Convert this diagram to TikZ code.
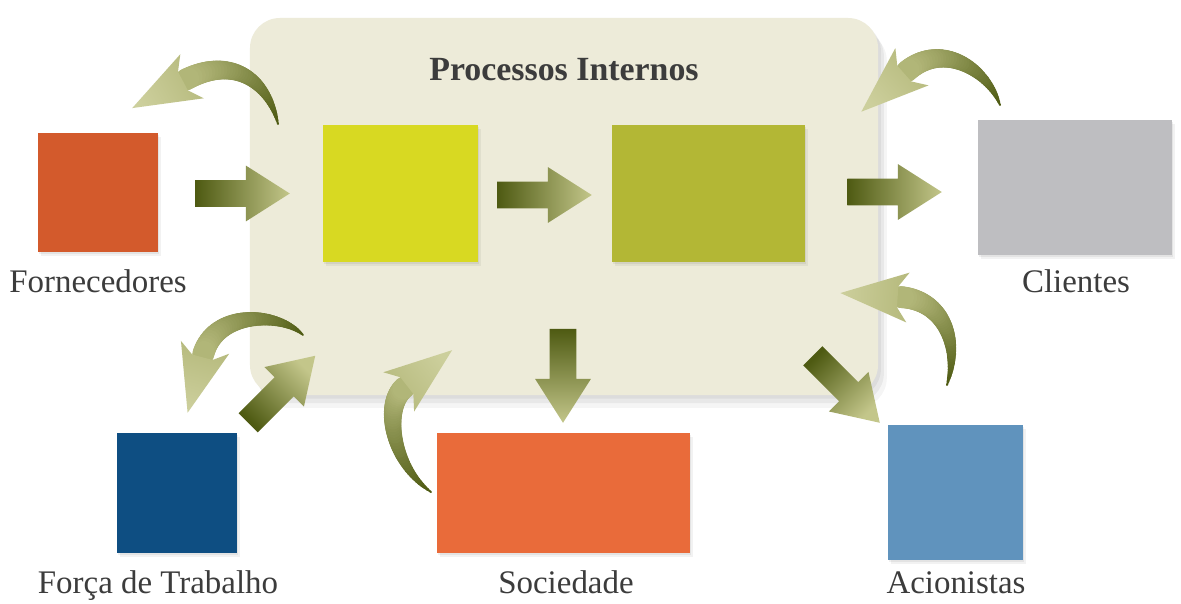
\documentclass[tikz,border=0pt]{standalone}
\usepackage{fontspec}
\setmainfont{Liberation Serif}
\usetikzlibrary{calc,shadows}

\definecolor{panelfill}{HTML}{EDEBD9}
\definecolor{cyellow}{HTML}{D8D922}
\definecolor{colive}{HTML}{B3B735}
\definecolor{corange}{HTML}{D35A2C}
\definecolor{cgray}{HTML}{BEBEC1}
\definecolor{cnavy}{HTML}{0E4E82}
\definecolor{csalmon}{HTML}{E96B3A}
\definecolor{csky}{HTML}{6093BD}
\definecolor{ardark}{HTML}{4E5A12}
\definecolor{arlight}{HTML}{C3C68A}
\definecolor{txt}{HTML}{3C3C3C}

% straight block arrow from tail #1 to tip #2, dark at the tail, light at the tip
\newcommand\blockarrow[2]{%
  \path (#1); \pgfgetlastxy{\bxa}{\bya}%
  \path (#2); \pgfgetlastxy{\bxb}{\byb}%
  \pgfmathsetmacro\bxa{\bxa}\pgfmathsetmacro\bya{\bya}%
  \pgfmathsetmacro\bxb{\bxb}\pgfmathsetmacro\byb{\byb}%
  \pgfmathsetmacro\bdx{\bxb-\bxa}\pgfmathsetmacro\bdy{\byb-\bya}%
  \pgfmathsetmacro\blen{veclen(\bdx,\bdy)}%
  \pgfmathsetmacro\bux{\bdx/\blen}\pgfmathsetmacro\buy{\bdy/\blen}%
  \pgfmathsetmacro\bang{atan2(\bdy,\bdx)+90}%
  \pgfmathsetmacro\bnx{\bxb-37.4*\bux}\pgfmathsetmacro\bny{\byb-37.4*\buy}%
  \pgfmathsetmacro\sx{11.5*\buy}\pgfmathsetmacro\sy{11.5*\bux}%
  \pgfmathsetmacro\hx{23.8*\buy}\pgfmathsetmacro\hy{23.8*\bux}%
  \pgfmathsetmacro\pAx{\bxa-\sx}\pgfmathsetmacro\pAy{\bya+\sy}%
  \pgfmathsetmacro\pBx{\bnx-\sx}\pgfmathsetmacro\pBy{\bny+\sy}%
  \pgfmathsetmacro\pCx{\bnx-\hx}\pgfmathsetmacro\pCy{\bny+\hy}%
  \pgfmathsetmacro\pDx{\bnx+\hx}\pgfmathsetmacro\pDy{\bny-\hy}%
  \pgfmathsetmacro\pEx{\bnx+\sx}\pgfmathsetmacro\pEy{\bny-\sy}%
  \pgfmathsetmacro\pFx{\bxa+\sx}\pgfmathsetmacro\pFy{\bya-\sy}%
  \shade[top color=ardark, bottom color=arlight, shading angle=\bang]
    (\pAx pt,\pAy pt) -- (\pBx pt,\pBy pt) -- (\pCx pt,\pCy pt) --
    (\bxb pt,\byb pt) -- (\pDx pt,\pDy pt) -- (\pEx pt,\pEy pt) --
    (\pFx pt,\pFy pt) -- cycle;
}

% tapered curved arrow along the cubic curve #1 .. #2 .. #3 .. #4
\newcommand\swoosh[4]{%
  \path (#1); \pgfgetlastxy{\qxa}{\qya}%
  \path (#2); \pgfgetlastxy{\qxb}{\qyb}%
  \path (#3); \pgfgetlastxy{\qxc}{\qyc}%
  \path (#4); \pgfgetlastxy{\qxd}{\qyd}%
  \pgfmathsetmacro\qxa{\qxa}\pgfmathsetmacro\qya{\qya}%
  \pgfmathsetmacro\qxb{\qxb}\pgfmathsetmacro\qyb{\qyb}%
  \pgfmathsetmacro\qxc{\qxc}\pgfmathsetmacro\qyc{\qyc}%
  \pgfmathsetmacro\qxd{\qxd}\pgfmathsetmacro\qyd{\qyd}%
  \foreach \i in {0,...,39}{%
    \pgfmathsetmacro\ta{\i/40}%
    \pgfmathsetmacro\tb{min(1,(\i+1.6)/40)}%
    \pgfmathsetmacro\xa{(1-\ta)^3*\qxa+3*(1-\ta)^2*\ta*\qxb+3*(1-\ta)*\ta^2*\qxc+\ta^3*\qxd}%
    \pgfmathsetmacro\ya{(1-\ta)^3*\qya+3*(1-\ta)^2*\ta*\qyb+3*(1-\ta)*\ta^2*\qyc+\ta^3*\qyd}%
    \pgfmathsetmacro\xb{(1-\tb)^3*\qxa+3*(1-\tb)^2*\tb*\qxb+3*(1-\tb)*\tb^2*\qxc+\tb^3*\qxd}%
    \pgfmathsetmacro\yb{(1-\tb)^3*\qya+3*(1-\tb)^2*\tb*\qyb+3*(1-\tb)*\tb^2*\qyc+\tb^3*\qyd}%
    \pgfmathsetmacro\wd{1.7+17*\ta*(1.6-0.6*\ta)}%
    \pgfmathtruncatemacro\scol{88*\ta}%
    \draw[line width=\wd pt, line cap=round, color=arlight!\scol!ardark]
      (\xa pt,\ya pt) -- (\xb pt,\yb pt);
  }%
  \pgfmathsetmacro\hdx{\qxd-\qxc}\pgfmathsetmacro\hdy{\qyd-\qyc}%
  \pgfmathsetmacro\hlen{veclen(\hdx,\hdy)}%
  \pgfmathsetmacro\hux{\hdx/\hlen}\pgfmathsetmacro\huy{\hdy/\hlen}%
  \pgfmathsetmacro\hang{atan2(\huy,\hux)+90}%
  \pgfmathsetmacro\tipx{\qxd+51*\hux}\pgfmathsetmacro\tipy{\qyd+51*\huy}%
  \pgfmathsetmacro\cAx{\qxd-21.3*\huy-6.8*\hux}\pgfmathsetmacro\cAy{\qyd+21.3*\hux-6.8*\huy}%
  \pgfmathsetmacro\cBx{\qxd+21.3*\huy-6.8*\hux}\pgfmathsetmacro\cBy{\qyd-21.3*\hux-6.8*\huy}%
  \pgfmathsetmacro\nAx{\qxd-9*\huy+2*\hux}\pgfmathsetmacro\nAy{\qyd+9*\hux+2*\huy}%
  \pgfmathsetmacro\nBx{\qxd+9*\huy+2*\hux}\pgfmathsetmacro\nBy{\qyd-9*\hux+2*\huy}%
  \shade[top color=arlight!88!ardark, bottom color=arlight!85!white, shading angle=\hang]
    (\tipx pt,\tipy pt) -- (\cAx pt,\cAy pt) -- (\nAx pt,\nAy pt) --
    (\nBx pt,\nBy pt) -- (\cBx pt,\cBy pt) -- cycle;
}

\begin{document}
\begin{tikzpicture}[x=0.03cm, y=-0.03cm,
  softshadow/.style={
    general shadow={fill=black, opacity=0.06, shadow xshift=1.2pt, shadow yshift=-1.8pt},
    general shadow={fill=black, opacity=0.05, shadow xshift=2.6pt, shadow yshift=-3.6pt}},
  panelshadow/.style={
    general shadow={fill=black, opacity=0.05, shadow xshift=2.5pt, shadow yshift=-3pt},
    general shadow={fill=black, opacity=0.05, shadow xshift=5pt, shadow yshift=-7pt},
    general shadow={fill=black, opacity=0.04, shadow xshift=7.5pt, shadow yshift=-11pt}},
  box/.style={rectangle, inner sep=0pt, draw=none, fill=#1, softshadow},
  panel/.style={rectangle, rounded corners=0.9cm, inner sep=0pt, fill=panelfill, panelshadow},
  lbl/.style={anchor=base, inner sep=0pt, text=txt, font=\fontsize{28.1}{30}\selectfont},
  ttl/.style={anchor=base, inner sep=0pt, text=txt, font=\fontsize{28.9}{30}\selectfont\bfseries}]

\useasboundingbox (0,0) rectangle (1181,603);
\fill[white] (0,0) rectangle (1181,603);

% internal processes panel
\node[panel, minimum width=18.84cm, minimum height=11.31cm] (proc) at (564,206.5) {};
\node[ttl] (title) at (564,80) {Processos Internos};

% boxes
\node[box=cyellow, minimum width=4.65cm, minimum height=4.11cm] (yel) at (400.5,193.5) {};
\node[box=colive,  minimum width=5.79cm, minimum height=4.11cm] (olv) at (708.5,193.5) {};
\node[box=corange, minimum width=3.6cm,  minimum height=3.57cm] (forn) at (98,192.5) {};
\node[box=cgray,   minimum width=5.82cm, minimum height=4.05cm] (cli) at (1075,187.5) {};
\node[box=cnavy,   minimum width=3.6cm,  minimum height=3.6cm]  (forc) at (177,493) {};
\node[box=csalmon, minimum width=7.59cm, minimum height=3.6cm]  (soc) at (563.5,493) {};
\node[box=csky,    minimum width=4.05cm, minimum height=4.05cm] (aci) at (955.5,492.5) {};

% labels
\node[lbl] (lforn) at (98,292) {Fornecedores};
\node[lbl] (lcli)  at (1076,292) {Clientes};
\node[lbl] (lforc) at (158,593) {Força de Trabalho};
\node[lbl] (lsoc)  at (566,593) {Sociedade};
\node[lbl] (laci)  at (956,593) {Acionistas};

% straight arrows
\coordinate (a1s) at ($(forn.east)+(37,1)$);
\coordinate (a1e) at ($(yel.west)+(-33,0)$);
\coordinate (a2s) at ($(yel.east)+(19,1.5)$);
\coordinate (a2e) at ($(olv.west)+(-20,1.5)$);
\coordinate (a3s) at ($(olv.east)+(42,-1.5)$);
\coordinate (a3e) at ($(cli.west)+(-36,4.5)$);
\coordinate (a4s) at ($(soc.north)+(-0.5,-104)$);
\coordinate (a4e) at ($(soc.north)+(-0.5,-10)$);
\coordinate (a5s) at ($(forc.north east)+(11,-10)$);
\coordinate (a5e) at ($(forc.north east)+(78,-77)$);
\coordinate (a6s) at ($(aci.north west)+(-75,-69)$);
\coordinate (a6e) at ($(aci.north west)+(-8,-2)$);
\blockarrow{a1s}{a1e}
\blockarrow{a2s}{a2e}
\blockarrow{a3s}{a3e}
\blockarrow{a4s}{a4e}
\blockarrow{a5s}{a5e}
\blockarrow{a6s}{a6e}

% curved return arrows
\coordinate (s1a) at (278,124); \coordinate (s1b) at (268,80);
\coordinate (s1c) at (232,55);  \coordinate (s1d) at (185,80);
\coordinate (s2a) at (1000,105); \coordinate (s2b) at (988,70);
\coordinate (s2c) at (942,40);   \coordinate (s2d) at (906,72);
\coordinate (s3a) at (303,335); \coordinate (s3b) at (280,312);
\coordinate (s3c) at (215,310); \coordinate (s3d) at (203,355);
\coordinate (s4a) at (431,492); \coordinate (s4b) at (392,465);
\coordinate (s4c) at (382,405); \coordinate (s4d) at (405,387);
\coordinate (s5a) at (947,385); \coordinate (s5b) at (960,345);
\coordinate (s5c) at (945,300); \coordinate (s5d) at (900,297);
\swoosh{s1a}{s1b}{s1c}{s1d}
\swoosh{s2a}{s2b}{s2c}{s2d}
\swoosh{s3a}{s3b}{s3c}{s3d}
\swoosh{s4a}{s4b}{s4c}{s4d}
\swoosh{s5a}{s5b}{s5c}{s5d}
\end{tikzpicture}
\end{document}
